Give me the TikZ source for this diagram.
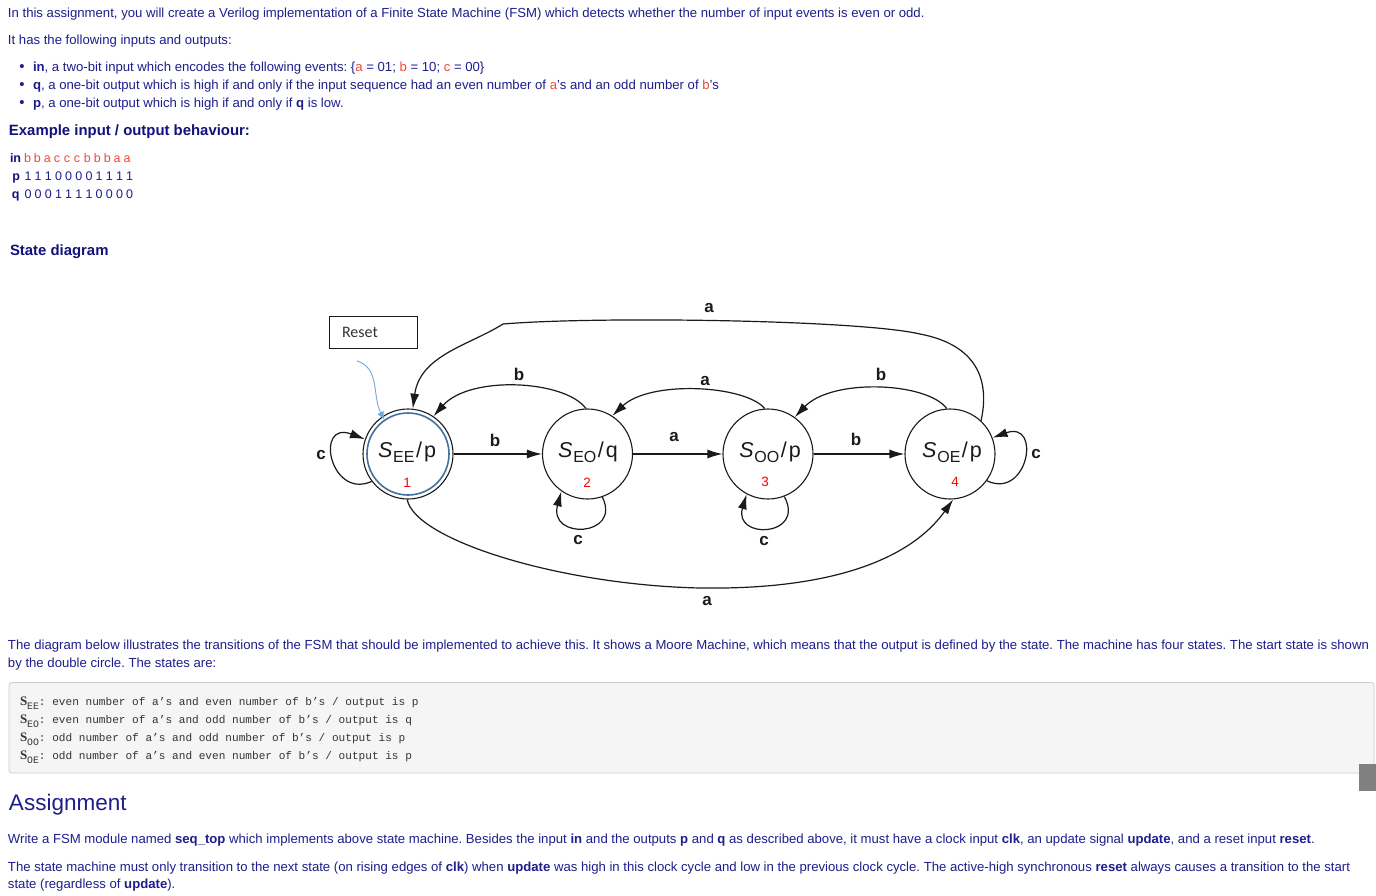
\documentclass[tikz,border=0pt]{standalone}
\usepackage{fontspec}
\setmainfont{Liberation Sans}
\newfontfamily\monofont{Liberation Mono}
\newfontfamily\carlito{Carlito}
\newfontfamily\seriffont{Liberation Serif}
\usetikzlibrary{arrows.meta}
\definecolor{tx}{HTML}{1E1E8C}
\definecolor{hd}{HTML}{12127A}
\definecolor{rd}{HTML}{EE4B3B}
\definecolor{ink}{HTML}{1A1A1A}
\definecolor{stblue}{HTML}{41719C}
\definecolor{rsblue}{HTML}{6FA8DC}
\definecolor{codebg}{HTML}{F5F5F5}
\definecolor{codeln}{HTML}{CCCCCC}
\definecolor{codetx}{HTML}{333333}
\definecolor{scroll}{HTML}{808080}
\newcommand{\redt}[1]{\textcolor{rd}{#1}}
\newcommand{\fsz}[1]{\fontsize{#1}{#1}\selectfont}
\newcommand{\stlab}[2]{{\fsz{21.5}\itshape S}\hspace{0.8pt}\raisebox{-5pt}{\fsz{16}#1}\hspace{1.5pt}{\fsz{21.5}/\hspace{2pt}#2}}
\newcommand{\codeS}[1]{{\seriffont\bfseries\fsz{13}S}\raisebox{-4pt}{\fsz{9.8}#1}}
\frenchspacing
\begin{document}
\begin{tikzpicture}[x=1pt,y=-1pt,
  txt/.style={anchor=base west,inner sep=0pt,outer sep=0pt,text=tx,font=\frenchspacing\fsz{13.15}},
  hdr/.style={anchor=base west,inner sep=0pt,outer sep=0pt,text=hd,font=\fsz{14.9}\bfseries},
  exch/.style={anchor=base west,inner sep=0pt,outer sep=0pt,font=\fsz{12.5}},
  code/.style={anchor=base west,inner sep=0pt,outer sep=0pt,text=codetx,font=\monofont\fsz{11.1}},
  state/.style={circle,draw=ink,line width=1.1pt,minimum size=90pt,inner sep=0pt},
  stl/.style={anchor=base,inner sep=0pt,text=ink},
  stn/.style={anchor=base,inner sep=0pt,text=red,font=\fsz{13.5}},
  el/.style={inner sep=0pt,text=ink,font=\fsz{17}\bfseries},
  edge/.style={draw=ink,line width=1.2pt,-{Latex[length=15pt,width=9pt]}}
]
\useasboundingbox (0,0) rectangle (1376,896);
\fill[white] (0,0) rectangle (1376,896);

% ---------- intro text ----------
\node[txt] (t1) at (8,18) {In this assignment, you will create a Verilog implementation of a Finite State Machine (FSM) which detects whether the number of input events is even or odd.};
\node[txt] (t2) at (8,45) {It has the following inputs and outputs:};
\foreach \yy/\nm in {72/b1,90/b2,108/b3}{
  \node[txt,anchor=center] (\nm) at (22,\yy-4) {\fsz{15}\textbullet};
}
\node[txt] (i1) at (33,72) {\textbf{in}, a two-bit input which encodes the following events: \{\redt{a} = 01; \redt{b} = 10; \redt{c} = 00\}};
\node[txt] (i2) at (33,90) {\textbf{q}, a one-bit output which is high if and only if the input sequence had an even number of \redt{a}'s and an odd number of \redt{b}'s};
\node[txt] (i3) at (33,108) {\textbf{p}, a one-bit output which is high if and only if \textbf{q} is low.};

\node[hdr] (h1) at (9,136) {Example input / output behaviour:};
\node[exch,text=hd] (ein) at (10,163) {\bfseries in};
\node[exch,text=hd] (ep) at (12.5,181) {\bfseries p};
\node[exch,text=hd] (eq) at (12,199) {\bfseries q};
\foreach \c [count=\i from 0] in {b,b,a,c,c,c,b,b,b,a,a}{
  \node[exch,text=rd] (ei\i) at (24+9.97*\i,163) {\c};
}
\foreach \c [count=\i from 0] in {1,1,1,0,0,0,0,1,1,1,1}{
  \node[exch,text=tx] (epp\i) at (24.5+10.17*\i,181) {\c};
}
\foreach \c [count=\i from 0] in {0,0,0,1,1,1,1,0,0,0,0}{
  \node[exch,text=tx] (eqq\i) at (24.5+10.17*\i,199) {\c};
}
\node[hdr] (h2) at (10,255) {State diagram};

% ---------- state diagram ----------
\node[draw=ink,line width=0.9pt,minimum width=88pt,minimum height=32pt,inner sep=0pt,text=codetx,font=\carlito\fsz{16}] (reset) at (373,332) {\hspace*{-26pt}Reset};
\coordinate (rs) at (357,361);

\node[state] (see) at (408,454) {};
\node[circle,draw=stblue,line width=1.6pt,minimum size=82pt,inner sep=0pt] (seei) at (408,454) {};
\node[state] (seo) at (587.5,454) {};
\node[state] (soo) at (768,454) {};
\node[state] (soe) at (950,454) {};

\node[stl] (lee) at (407,457) {\stlab{EE}{p}};
\node[stl] (leo) at (588,457) {\stlab{EO}{q}};
\node[stl] (loo) at (770,457) {\stlab{OO}{p}};
\node[stl] (loe) at (952,457) {\stlab{OE}{p}};
\node[stn] (n1) at (407,487) {1};
\node[stn] (n2) at (587,487) {2};
\node[stn] (n3) at (765,486) {3};
\node[stn] (n4) at (955,486) {4};

\draw[draw=rsblue,line width=0.9pt,-{Latex[length=8pt,width=7pt]}] (rs) .. controls (380,368) and (372,395) .. (seei.125);

% straight
\draw[edge] (see) -- (seo);
\draw[edge] (seo) -- (soo);
\draw[edge] (soo) -- (soe);
% upper arcs
\draw[edge] (seo.92) .. controls (565,380) and (470,375) .. (see.56);
\draw[edge] (soo.94) .. controls (745,385) and (650,380) .. (seo.57);
\draw[edge] (soe.94) .. controls (927,382) and (832,378) .. (soo.54);
% big top
\draw[edge] (soe.47) .. controls (990,380) and (977,345) .. (920,334)
  .. controls (860,320) and (600,316) .. (503,324)
  .. controls (470,345) and (420,355) .. (see.84);
% big bottom
\draw[edge] (see.269) .. controls (415,540) and (560,585) .. (700,588)
  .. controls (830,590) and (910,560) .. (soe.274);
% loops
\draw[edge] (see.217) .. controls (330,500) and (314,420) .. (see.161);
\draw[edge] (soe.-36) .. controls (1028,500) and (1042,420) .. (soe.21);
\draw[edge] (seo.-71) .. controls (622,537) and (548,540) .. (seo.235);
\draw[edge] (soo.-69) .. controls (806,537) and (733,540) .. (soo.242);

% edge labels
\node[el] (lc1) at (321,455) {c};
\node[el] (lb1) at (495,440) {b};
\node[el] (lb2) at (519,374) {b};
\node[el] (la1) at (674,437) {a};
\node[el] (la2) at (705,381) {a};
\node[el] (lb3) at (856,439) {b};
\node[el] (lb4) at (881,374) {b};
\node[el] (lc4) at (1036,454) {c};
\node[el] (lc2) at (578,540) {c};
\node[el] (lc3) at (764,541) {c};
\node[el] (la3) at (709,308) {a};
\node[el] (la4) at (707,601) {a};

% ---------- explanation ----------
\node[txt] (d1) at (8,649) {The diagram below illustrates the transitions of the FSM that should be implemented to achieve this. It shows a Moore Machine, which means that the output is defined by the state. The machine has four states. The start state is shown};
\node[txt] (d2) at (8,667) {by the double circle. The states are:};

\draw[fill=codebg,draw=codeln,line width=0.8pt,rounded corners=3pt] (9,682.5) rectangle (1374,773);
\node[code] (c1) at (20,705) {\codeS{EE}: even number of a’s and even number of b’s / output is p};
\node[code] (c2) at (20,723) {\codeS{EO}: even number of a’s and odd number of b’s / output is q};
\node[code] (c3) at (20,741) {\codeS{OO}: odd number of a’s and odd number of b’s / output is p};
\node[code] (c4) at (20,759) {\codeS{OE}: odd number of a’s and even number of b’s / output is p};
\fill[scroll] (1359,764) rectangle (1376,791);

\node[txt,font=\fsz{22.5}] (asg) at (9,810) {Assignment};
\node[txt] (p1) at (8,843) {Write a FSM module named \textbf{seq\_top} which implements above state machine. Besides the input \textbf{in} and the outputs \textbf{p} and \textbf{q} as described above, it must have a clock input \textbf{clk}, an update signal \textbf{update}, and a reset input \textbf{reset}.};
\node[txt] (p2) at (8,871) {The state machine must only transition to the next state (on rising edges of \textbf{clk}) when \textbf{update} was high in this clock cycle and low in the previous clock cycle. The active-high synchronous \textbf{reset} always causes a transition to the start};
\node[txt] (p3) at (8,888) {state (regardless of \textbf{update}).};
\end{tikzpicture}
\end{document}
